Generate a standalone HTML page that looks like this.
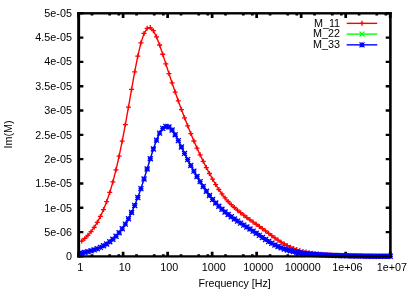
<!DOCTYPE html>
<html><head><meta charset="utf-8"><title>plot</title>
<style>html,body{margin:0;padding:0;background:#fff;}svg{display:block;will-change:transform;}text{font-family:"Liberation Sans",sans-serif;font-size:10px;fill:#000;}</style></head>
<body>
<svg width="415" height="291" viewBox="0 0 415 291">
<rect x="0" y="0" width="415" height="291" fill="#fff"/>
<g stroke="#000" fill="none">
<path stroke-width="2.4" d="M78.65 256.4h4.7 M390.4 256.4h-4.7 M78.65 232.09h4.7 M390.4 232.09h-4.7 M78.65 207.78h4.7 M390.4 207.78h-4.7 M78.65 183.47h4.7 M390.4 183.47h-4.7 M78.65 159.16h4.7 M390.4 159.16h-4.7 M78.65 134.85h4.7 M390.4 134.85h-4.7 M78.65 110.54h4.7 M390.4 110.54h-4.7 M78.65 86.23h4.7 M390.4 86.23h-4.7 M78.65 61.92h4.7 M390.4 61.92h-4.7 M78.65 37.61h4.7 M390.4 37.61h-4.7 M78.65 13.3h4.7 M390.4 13.3h-4.7"/>
<path stroke-width="2.7" d="M78.6 256.4v-4.7 M78.6 13.3v4.7 M92 256.4v-2.2 M92 13.3v2.2 M109.71 256.4v-2.2 M109.71 13.3v2.2 M118.8 256.4v-2.2 M118.8 13.3v2.2 M123.11 256.4v-4.7 M123.11 13.3v4.7 M136.51 256.4v-2.2 M136.51 13.3v2.2 M154.23 256.4v-2.2 M154.23 13.3v2.2 M163.31 256.4v-2.2 M163.31 13.3v2.2 M167.63 256.4v-4.7 M167.63 13.3v4.7 M181.03 256.4v-2.2 M181.03 13.3v2.2 M198.74 256.4v-2.2 M198.74 13.3v2.2 M207.83 256.4v-2.2 M207.83 13.3v2.2 M212.14 256.4v-4.7 M212.14 13.3v4.7 M225.54 256.4v-2.2 M225.54 13.3v2.2 M243.26 256.4v-2.2 M243.26 13.3v2.2 M252.34 256.4v-2.2 M252.34 13.3v2.2 M256.66 256.4v-4.7 M256.66 13.3v4.7 M270.06 256.4v-2.2 M270.06 13.3v2.2 M287.77 256.4v-2.2 M287.77 13.3v2.2 M296.86 256.4v-2.2 M296.86 13.3v2.2 M301.17 256.4v-4.7 M301.17 13.3v4.7 M314.57 256.4v-2.2 M314.57 13.3v2.2 M332.29 256.4v-2.2 M332.29 13.3v2.2 M341.37 256.4v-2.2 M341.37 13.3v2.2 M345.69 256.4v-4.7 M345.69 13.3v4.7 M359.09 256.4v-2.2 M359.09 13.3v2.2 M376.8 256.4v-2.2 M376.8 13.3v2.2 M385.89 256.4v-2.2 M385.89 13.3v2.2 M390.2 256.4v-4.7 M390.2 13.3v4.7"/>
</g>
<g>
<path d="M81.72 241.09 L84.83 238.42 L87.95 235.29 L91.06 231.63 L94.18 227.33 L97.3 222.3 L100.41 216.43 L103.53 209.59 L106.64 201.64 L109.76 192.45 L112.88 181.88 L115.99 169.82 L119.11 156.22 L122.22 141.09 L125.34 124.62 L128.46 107.15 L131.57 89.28 L134.69 71.89 L137.8 56.05 L140.92 42.9 L144.04 33.45 L147.15 28.31 L150.27 27.56 L153.38 30.7 L156.5 36.85 L159.62 45.01 L162.73 54.25 L165.85 63.89 L168.96 73.53 L172.08 82.95 L175.2 92.1 L178.31 100.96 L181.43 109.53 L184.54 117.82 L187.66 125.83 L190.78 133.55 L193.89 140.98 L197.01 148.08 L200.12 154.87 L203.24 161.36 L206.36 167.57 L209.47 173.52 L212.59 179.19 L215.7 184.53 L218.82 189.48 L221.94 193.96 L225.05 197.96 L228.17 201.5 L231.28 204.66 L234.4 207.52 L237.52 210.19 L240.63 212.72 L243.75 215.17 L246.86 217.53 L249.98 219.81 L253.1 222.04 L256.21 224.23 L259.33 226.43 L262.44 228.67 L265.56 230.97 L268.68 233.31 L271.79 235.65 L274.91 237.94 L278.02 240.12 L281.14 242.16 L284.26 244.01 L287.37 245.68 L290.49 247.16 L293.6 248.46 L296.72 249.59 L299.84 250.56 L302.95 251.39 L306.07 252.11 L309.18 252.72 L312.3 253.24 L315.42 253.68 L318.53 254.05 L321.65 254.36 L324.76 254.62 L327.88 254.83 L331 255.02 L334.11 255.17 L337.23 255.3 L340.34 255.41 L343.46 255.5 L346.58 255.59 L349.69 255.67 L352.81 255.75 L355.92 255.82 L359.04 255.89 L362.16 255.96 L365.27 256.01 L368.39 256.06 L371.5 256.11 L374.62 256.15 L377.74 256.19 L380.85 256.22 L383.97 256.24 L387.08 256.27 L390.2 256.29" stroke="#ff0000" stroke-width="1.4" fill="none" stroke-linejoin="round"/>
<path d="M79.22 241.09h5 M81.72 238.59v5 M82.33 238.42h5 M84.83 235.92v5 M85.45 235.29h5 M87.95 232.79v5 M88.56 231.63h5 M91.06 229.13v5 M91.68 227.33h5 M94.18 224.83v5 M94.8 222.3h5 M97.3 219.8v5 M97.91 216.43h5 M100.41 213.93v5 M101.03 209.59h5 M103.53 207.09v5 M104.14 201.64h5 M106.64 199.14v5 M107.26 192.45h5 M109.76 189.95v5 M110.38 181.88h5 M112.88 179.38v5 M113.49 169.82h5 M115.99 167.32v5 M116.61 156.22h5 M119.11 153.72v5 M119.72 141.09h5 M122.22 138.59v5 M122.84 124.62h5 M125.34 122.12v5 M125.96 107.15h5 M128.46 104.65v5 M129.07 89.28h5 M131.57 86.78v5 M132.19 71.89h5 M134.69 69.39v5 M135.3 56.05h5 M137.8 53.55v5 M138.42 42.9h5 M140.92 40.4v5 M141.54 33.45h5 M144.04 30.95v5 M144.65 28.31h5 M147.15 25.81v5 M147.77 27.56h5 M150.27 25.06v5 M150.88 30.7h5 M153.38 28.2v5 M154 36.85h5 M156.5 34.35v5 M157.12 45.01h5 M159.62 42.51v5 M160.23 54.25h5 M162.73 51.75v5 M163.35 63.89h5 M165.85 61.39v5 M166.46 73.53h5 M168.96 71.03v5 M169.58 82.95h5 M172.08 80.45v5 M172.7 92.1h5 M175.2 89.6v5 M175.81 100.96h5 M178.31 98.46v5 M178.93 109.53h5 M181.43 107.03v5 M182.04 117.82h5 M184.54 115.32v5 M185.16 125.83h5 M187.66 123.33v5 M188.28 133.55h5 M190.78 131.05v5 M191.39 140.98h5 M193.89 138.48v5 M194.51 148.08h5 M197.01 145.58v5 M197.62 154.87h5 M200.12 152.37v5 M200.74 161.36h5 M203.24 158.86v5 M203.86 167.57h5 M206.36 165.07v5 M206.97 173.52h5 M209.47 171.02v5 M210.09 179.19h5 M212.59 176.69v5 M213.2 184.53h5 M215.7 182.03v5 M216.32 189.48h5 M218.82 186.98v5 M219.44 193.96h5 M221.94 191.46v5 M222.55 197.96h5 M225.05 195.46v5 M225.67 201.5h5 M228.17 199v5 M228.78 204.66h5 M231.28 202.16v5 M231.9 207.52h5 M234.4 205.02v5 M235.02 210.19h5 M237.52 207.69v5 M238.13 212.72h5 M240.63 210.22v5 M241.25 215.17h5 M243.75 212.67v5 M244.36 217.53h5 M246.86 215.03v5 M247.48 219.81h5 M249.98 217.31v5 M250.6 222.04h5 M253.1 219.54v5 M253.71 224.23h5 M256.21 221.73v5 M256.83 226.43h5 M259.33 223.93v5 M259.94 228.67h5 M262.44 226.17v5 M263.06 230.97h5 M265.56 228.47v5 M266.18 233.31h5 M268.68 230.81v5 M269.29 235.65h5 M271.79 233.15v5 M272.41 237.94h5 M274.91 235.44v5 M275.52 240.12h5 M278.02 237.62v5 M278.64 242.16h5 M281.14 239.66v5 M281.76 244.01h5 M284.26 241.51v5 M284.87 245.68h5 M287.37 243.18v5 M287.99 247.16h5 M290.49 244.66v5 M291.1 248.46h5 M293.6 245.96v5 M294.22 249.59h5 M296.72 247.09v5 M297.34 250.56h5 M299.84 248.06v5 M300.45 251.39h5 M302.95 248.89v5 M303.57 252.11h5 M306.07 249.61v5 M306.68 252.72h5 M309.18 250.22v5 M309.8 253.24h5 M312.3 250.74v5 M312.92 253.68h5 M315.42 251.18v5 M316.03 254.05h5 M318.53 251.55v5 M319.15 254.36h5 M321.65 251.86v5 M322.26 254.62h5 M324.76 252.12v5 M325.38 254.83h5 M327.88 252.33v5 M328.5 255.02h5 M331 252.52v5 M331.61 255.17h5 M334.11 252.67v5 M334.73 255.3h5 M337.23 252.8v5 M337.84 255.41h5 M340.34 252.91v5 M340.96 255.5h5 M343.46 253v5 M344.08 255.59h5 M346.58 253.09v5 M347.19 255.67h5 M349.69 253.17v5 M350.31 255.75h5 M352.81 253.25v5 M353.42 255.82h5 M355.92 253.32v5 M356.54 255.89h5 M359.04 253.39v5 M359.66 255.96h5 M362.16 253.46v5 M362.77 256.01h5 M365.27 253.51v5 M365.89 256.06h5 M368.39 253.56v5 M369 256.11h5 M371.5 253.61v5 M372.12 256.15h5 M374.62 253.65v5 M375.24 256.19h5 M377.74 253.69v5 M378.35 256.22h5 M380.85 253.72v5 M381.47 256.24h5 M383.97 253.74v5 M384.58 256.27h5 M387.08 253.77v5 M387.7 256.29h5 M390.2 253.79v5" stroke="#ff0000" stroke-width="1.3" fill="none"/>
<path d="M81.72 252.96 L84.83 252.36 L87.95 251.66 L91.06 250.83 L94.18 249.85 L97.3 248.71 L100.41 247.37 L103.53 245.79 L106.64 243.95 L109.76 241.78 L112.88 239.25 L115.99 236.28 L119.11 232.82 L122.22 228.79 L125.34 224.12 L128.46 218.71 L131.57 212.5 L134.69 205.43 L137.8 197.47 L140.92 188.65 L144.04 179.08 L147.15 168.99 L150.27 158.76 L153.38 148.93 L156.5 140.15 L159.62 133.11 L162.73 128.4 L165.85 126.37 L168.96 127.02 L172.08 130.02 L175.2 134.78 L178.31 140.64 L181.43 147 L184.54 153.41 L187.66 159.63 L190.78 165.54 L193.89 171.15 L197.01 176.51 L200.12 181.65 L203.24 186.55 L206.36 191.18 L209.47 195.48 L212.59 199.42 L215.7 203.01 L218.82 206.28 L221.94 209.25 L225.05 211.97 L228.17 214.49 L231.28 216.83 L234.4 219.02 L237.52 221.1 L240.63 223.12 L243.75 225.1 L246.86 227.08 L249.98 229.08 L253.1 231.13 L256.21 233.22 L259.33 235.34 L262.44 237.45 L265.56 239.51 L268.68 241.47 L271.79 243.3 L274.91 244.96 L278.02 246.46 L281.14 247.79 L284.26 248.94 L287.37 249.95 L290.49 250.81 L293.6 251.55 L296.72 252.18 L299.84 252.71 L302.95 253.17 L306.07 253.57 L309.18 253.91 L312.3 254.21 L315.42 254.47 L318.53 254.7 L321.65 254.9 L324.76 255.07 L327.88 255.22 L331 255.36 L334.11 255.47 L337.23 255.57 L340.34 255.66 L343.46 255.74 L346.58 255.81 L349.69 255.88 L352.81 255.94 L355.92 256 L359.04 256.05 L362.16 256.1 L365.27 256.14 L368.39 256.17 L371.5 256.21 L374.62 256.23 L377.74 256.25 L380.85 256.27 L383.97 256.29 L387.08 256.3 L390.2 256.31" stroke="#00ff00" stroke-width="0.9" fill="none" stroke-linejoin="round"/>
<path d="M79.72 250.96l4 4 M79.72 254.96l4 -4 M82.83 250.36l4 4 M82.83 254.36l4 -4 M85.95 249.66l4 4 M85.95 253.66l4 -4 M89.06 248.83l4 4 M89.06 252.83l4 -4 M92.18 247.85l4 4 M92.18 251.85l4 -4 M95.3 246.71l4 4 M95.3 250.71l4 -4 M98.41 245.37l4 4 M98.41 249.37l4 -4 M101.53 243.79l4 4 M101.53 247.79l4 -4 M104.64 241.95l4 4 M104.64 245.95l4 -4 M107.76 239.78l4 4 M107.76 243.78l4 -4 M110.88 237.25l4 4 M110.88 241.25l4 -4 M113.99 234.28l4 4 M113.99 238.28l4 -4 M117.11 230.82l4 4 M117.11 234.82l4 -4 M120.22 226.79l4 4 M120.22 230.79l4 -4 M123.34 222.12l4 4 M123.34 226.12l4 -4 M126.46 216.71l4 4 M126.46 220.71l4 -4 M129.57 210.5l4 4 M129.57 214.5l4 -4 M132.69 203.43l4 4 M132.69 207.43l4 -4 M135.8 195.47l4 4 M135.8 199.47l4 -4 M138.92 186.65l4 4 M138.92 190.65l4 -4 M142.04 177.08l4 4 M142.04 181.08l4 -4 M145.15 166.99l4 4 M145.15 170.99l4 -4 M148.27 156.76l4 4 M148.27 160.76l4 -4 M151.38 146.93l4 4 M151.38 150.93l4 -4 M154.5 138.15l4 4 M154.5 142.15l4 -4 M157.62 131.11l4 4 M157.62 135.11l4 -4 M160.73 126.4l4 4 M160.73 130.4l4 -4 M163.85 124.37l4 4 M163.85 128.37l4 -4 M166.96 125.02l4 4 M166.96 129.02l4 -4 M170.08 128.02l4 4 M170.08 132.02l4 -4 M173.2 132.78l4 4 M173.2 136.78l4 -4 M176.31 138.64l4 4 M176.31 142.64l4 -4 M179.43 145l4 4 M179.43 149l4 -4 M182.54 151.41l4 4 M182.54 155.41l4 -4 M185.66 157.63l4 4 M185.66 161.63l4 -4 M188.78 163.54l4 4 M188.78 167.54l4 -4 M191.89 169.15l4 4 M191.89 173.15l4 -4 M195.01 174.51l4 4 M195.01 178.51l4 -4 M198.12 179.65l4 4 M198.12 183.65l4 -4 M201.24 184.55l4 4 M201.24 188.55l4 -4 M204.36 189.18l4 4 M204.36 193.18l4 -4 M207.47 193.48l4 4 M207.47 197.48l4 -4 M210.59 197.42l4 4 M210.59 201.42l4 -4 M213.7 201.01l4 4 M213.7 205.01l4 -4 M216.82 204.28l4 4 M216.82 208.28l4 -4 M219.94 207.25l4 4 M219.94 211.25l4 -4 M223.05 209.97l4 4 M223.05 213.97l4 -4 M226.17 212.49l4 4 M226.17 216.49l4 -4 M229.28 214.83l4 4 M229.28 218.83l4 -4 M232.4 217.02l4 4 M232.4 221.02l4 -4 M235.52 219.1l4 4 M235.52 223.1l4 -4 M238.63 221.12l4 4 M238.63 225.12l4 -4 M241.75 223.1l4 4 M241.75 227.1l4 -4 M244.86 225.08l4 4 M244.86 229.08l4 -4 M247.98 227.08l4 4 M247.98 231.08l4 -4 M251.1 229.13l4 4 M251.1 233.13l4 -4 M254.21 231.22l4 4 M254.21 235.22l4 -4 M257.33 233.34l4 4 M257.33 237.34l4 -4 M260.44 235.45l4 4 M260.44 239.45l4 -4 M263.56 237.51l4 4 M263.56 241.51l4 -4 M266.68 239.47l4 4 M266.68 243.47l4 -4 M269.79 241.3l4 4 M269.79 245.3l4 -4 M272.91 242.96l4 4 M272.91 246.96l4 -4 M276.02 244.46l4 4 M276.02 248.46l4 -4 M279.14 245.79l4 4 M279.14 249.79l4 -4 M282.26 246.94l4 4 M282.26 250.94l4 -4 M285.37 247.95l4 4 M285.37 251.95l4 -4 M288.49 248.81l4 4 M288.49 252.81l4 -4 M291.6 249.55l4 4 M291.6 253.55l4 -4 M294.72 250.18l4 4 M294.72 254.18l4 -4 M297.84 250.71l4 4 M297.84 254.71l4 -4 M300.95 251.17l4 4 M300.95 255.17l4 -4 M304.07 251.57l4 4 M304.07 255.57l4 -4 M307.18 251.91l4 4 M307.18 255.91l4 -4 M310.3 252.21l4 4 M310.3 256.21l4 -4 M313.42 252.47l4 4 M313.42 256.47l4 -4 M316.53 252.7l4 4 M316.53 256.7l4 -4 M319.65 252.9l4 4 M319.65 256.9l4 -4 M322.76 253.07l4 4 M322.76 257.07l4 -4 M325.88 253.22l4 4 M325.88 257.22l4 -4 M329 253.36l4 4 M329 257.36l4 -4 M332.11 253.47l4 4 M332.11 257.47l4 -4 M335.23 253.57l4 4 M335.23 257.57l4 -4 M338.34 253.66l4 4 M338.34 257.66l4 -4 M341.46 253.74l4 4 M341.46 257.74l4 -4 M344.58 253.81l4 4 M344.58 257.81l4 -4 M347.69 253.88l4 4 M347.69 257.88l4 -4 M350.81 253.94l4 4 M350.81 257.94l4 -4 M353.92 254l4 4 M353.92 258l4 -4 M357.04 254.05l4 4 M357.04 258.05l4 -4 M360.16 254.1l4 4 M360.16 258.1l4 -4 M363.27 254.14l4 4 M363.27 258.14l4 -4 M366.39 254.17l4 4 M366.39 258.17l4 -4 M369.5 254.21l4 4 M369.5 258.21l4 -4 M372.62 254.23l4 4 M372.62 258.23l4 -4 M375.74 254.25l4 4 M375.74 258.25l4 -4 M378.85 254.27l4 4 M378.85 258.27l4 -4 M381.97 254.29l4 4 M381.97 258.29l4 -4 M385.08 254.3l4 4 M385.08 258.3l4 -4 M388.2 254.31l4 4 M388.2 258.31l4 -4" stroke="#00ff00" stroke-width="0.9" fill="none"/>
<path d="M81.72 252.96 L84.83 252.36 L87.95 251.66 L91.06 250.83 L94.18 249.85 L97.3 248.71 L100.41 247.37 L103.53 245.79 L106.64 243.95 L109.76 241.78 L112.88 239.25 L115.99 236.28 L119.11 232.82 L122.22 228.79 L125.34 224.12 L128.46 218.71 L131.57 212.5 L134.69 205.43 L137.8 197.47 L140.92 188.65 L144.04 179.08 L147.15 168.99 L150.27 158.76 L153.38 148.93 L156.5 140.15 L159.62 133.11 L162.73 128.4 L165.85 126.37 L168.96 127.02 L172.08 130.02 L175.2 134.78 L178.31 140.64 L181.43 147 L184.54 153.41 L187.66 159.63 L190.78 165.54 L193.89 171.15 L197.01 176.51 L200.12 181.65 L203.24 186.55 L206.36 191.18 L209.47 195.48 L212.59 199.42 L215.7 203.01 L218.82 206.28 L221.94 209.25 L225.05 211.97 L228.17 214.49 L231.28 216.83 L234.4 219.02 L237.52 221.1 L240.63 223.12 L243.75 225.1 L246.86 227.08 L249.98 229.08 L253.1 231.13 L256.21 233.22 L259.33 235.34 L262.44 237.45 L265.56 239.51 L268.68 241.47 L271.79 243.3 L274.91 244.96 L278.02 246.46 L281.14 247.79 L284.26 248.94 L287.37 249.95 L290.49 250.81 L293.6 251.55 L296.72 252.18 L299.84 252.71 L302.95 253.17 L306.07 253.57 L309.18 253.91 L312.3 254.21 L315.42 254.47 L318.53 254.7 L321.65 254.9 L324.76 255.07 L327.88 255.22 L331 255.36 L334.11 255.47 L337.23 255.57 L340.34 255.66 L343.46 255.74 L346.58 255.81 L349.69 255.88 L352.81 255.94 L355.92 256 L359.04 256.05 L362.16 256.1 L365.27 256.14 L368.39 256.17 L371.5 256.21 L374.62 256.23 L377.74 256.25 L380.85 256.27 L383.97 256.29 L387.08 256.3 L390.2 256.31" stroke="#0000ff" stroke-width="1.4" fill="none" stroke-linejoin="round"/>
<path d="M79.22 252.96h5 M81.72 250.46v5 M79.22 250.46l5 5 M79.22 255.46l5 -5 M82.33 252.36h5 M84.83 249.86v5 M82.33 249.86l5 5 M82.33 254.86l5 -5 M85.45 251.66h5 M87.95 249.16v5 M85.45 249.16l5 5 M85.45 254.16l5 -5 M88.56 250.83h5 M91.06 248.33v5 M88.56 248.33l5 5 M88.56 253.33l5 -5 M91.68 249.85h5 M94.18 247.35v5 M91.68 247.35l5 5 M91.68 252.35l5 -5 M94.8 248.71h5 M97.3 246.21v5 M94.8 246.21l5 5 M94.8 251.21l5 -5 M97.91 247.37h5 M100.41 244.87v5 M97.91 244.87l5 5 M97.91 249.87l5 -5 M101.03 245.79h5 M103.53 243.29v5 M101.03 243.29l5 5 M101.03 248.29l5 -5 M104.14 243.95h5 M106.64 241.45v5 M104.14 241.45l5 5 M104.14 246.45l5 -5 M107.26 241.78h5 M109.76 239.28v5 M107.26 239.28l5 5 M107.26 244.28l5 -5 M110.38 239.25h5 M112.88 236.75v5 M110.38 236.75l5 5 M110.38 241.75l5 -5 M113.49 236.28h5 M115.99 233.78v5 M113.49 233.78l5 5 M113.49 238.78l5 -5 M116.61 232.82h5 M119.11 230.32v5 M116.61 230.32l5 5 M116.61 235.32l5 -5 M119.72 228.79h5 M122.22 226.29v5 M119.72 226.29l5 5 M119.72 231.29l5 -5 M122.84 224.12h5 M125.34 221.62v5 M122.84 221.62l5 5 M122.84 226.62l5 -5 M125.96 218.71h5 M128.46 216.21v5 M125.96 216.21l5 5 M125.96 221.21l5 -5 M129.07 212.5h5 M131.57 210v5 M129.07 210l5 5 M129.07 215l5 -5 M132.19 205.43h5 M134.69 202.93v5 M132.19 202.93l5 5 M132.19 207.93l5 -5 M135.3 197.47h5 M137.8 194.97v5 M135.3 194.97l5 5 M135.3 199.97l5 -5 M138.42 188.65h5 M140.92 186.15v5 M138.42 186.15l5 5 M138.42 191.15l5 -5 M141.54 179.08h5 M144.04 176.58v5 M141.54 176.58l5 5 M141.54 181.58l5 -5 M144.65 168.99h5 M147.15 166.49v5 M144.65 166.49l5 5 M144.65 171.49l5 -5 M147.77 158.76h5 M150.27 156.26v5 M147.77 156.26l5 5 M147.77 161.26l5 -5 M150.88 148.93h5 M153.38 146.43v5 M150.88 146.43l5 5 M150.88 151.43l5 -5 M154 140.15h5 M156.5 137.65v5 M154 137.65l5 5 M154 142.65l5 -5 M157.12 133.11h5 M159.62 130.61v5 M157.12 130.61l5 5 M157.12 135.61l5 -5 M160.23 128.4h5 M162.73 125.9v5 M160.23 125.9l5 5 M160.23 130.9l5 -5 M163.35 126.37h5 M165.85 123.87v5 M163.35 123.87l5 5 M163.35 128.87l5 -5 M166.46 127.02h5 M168.96 124.52v5 M166.46 124.52l5 5 M166.46 129.52l5 -5 M169.58 130.02h5 M172.08 127.52v5 M169.58 127.52l5 5 M169.58 132.52l5 -5 M172.7 134.78h5 M175.2 132.28v5 M172.7 132.28l5 5 M172.7 137.28l5 -5 M175.81 140.64h5 M178.31 138.14v5 M175.81 138.14l5 5 M175.81 143.14l5 -5 M178.93 147h5 M181.43 144.5v5 M178.93 144.5l5 5 M178.93 149.5l5 -5 M182.04 153.41h5 M184.54 150.91v5 M182.04 150.91l5 5 M182.04 155.91l5 -5 M185.16 159.63h5 M187.66 157.13v5 M185.16 157.13l5 5 M185.16 162.13l5 -5 M188.28 165.54h5 M190.78 163.04v5 M188.28 163.04l5 5 M188.28 168.04l5 -5 M191.39 171.15h5 M193.89 168.65v5 M191.39 168.65l5 5 M191.39 173.65l5 -5 M194.51 176.51h5 M197.01 174.01v5 M194.51 174.01l5 5 M194.51 179.01l5 -5 M197.62 181.65h5 M200.12 179.15v5 M197.62 179.15l5 5 M197.62 184.15l5 -5 M200.74 186.55h5 M203.24 184.05v5 M200.74 184.05l5 5 M200.74 189.05l5 -5 M203.86 191.18h5 M206.36 188.68v5 M203.86 188.68l5 5 M203.86 193.68l5 -5 M206.97 195.48h5 M209.47 192.98v5 M206.97 192.98l5 5 M206.97 197.98l5 -5 M210.09 199.42h5 M212.59 196.92v5 M210.09 196.92l5 5 M210.09 201.92l5 -5 M213.2 203.01h5 M215.7 200.51v5 M213.2 200.51l5 5 M213.2 205.51l5 -5 M216.32 206.28h5 M218.82 203.78v5 M216.32 203.78l5 5 M216.32 208.78l5 -5 M219.44 209.25h5 M221.94 206.75v5 M219.44 206.75l5 5 M219.44 211.75l5 -5 M222.55 211.97h5 M225.05 209.47v5 M222.55 209.47l5 5 M222.55 214.47l5 -5 M225.67 214.49h5 M228.17 211.99v5 M225.67 211.99l5 5 M225.67 216.99l5 -5 M228.78 216.83h5 M231.28 214.33v5 M228.78 214.33l5 5 M228.78 219.33l5 -5 M231.9 219.02h5 M234.4 216.52v5 M231.9 216.52l5 5 M231.9 221.52l5 -5 M235.02 221.1h5 M237.52 218.6v5 M235.02 218.6l5 5 M235.02 223.6l5 -5 M238.13 223.12h5 M240.63 220.62v5 M238.13 220.62l5 5 M238.13 225.62l5 -5 M241.25 225.1h5 M243.75 222.6v5 M241.25 222.6l5 5 M241.25 227.6l5 -5 M244.36 227.08h5 M246.86 224.58v5 M244.36 224.58l5 5 M244.36 229.58l5 -5 M247.48 229.08h5 M249.98 226.58v5 M247.48 226.58l5 5 M247.48 231.58l5 -5 M250.6 231.13h5 M253.1 228.63v5 M250.6 228.63l5 5 M250.6 233.63l5 -5 M253.71 233.22h5 M256.21 230.72v5 M253.71 230.72l5 5 M253.71 235.72l5 -5 M256.83 235.34h5 M259.33 232.84v5 M256.83 232.84l5 5 M256.83 237.84l5 -5 M259.94 237.45h5 M262.44 234.95v5 M259.94 234.95l5 5 M259.94 239.95l5 -5 M263.06 239.51h5 M265.56 237.01v5 M263.06 237.01l5 5 M263.06 242.01l5 -5 M266.18 241.47h5 M268.68 238.97v5 M266.18 238.97l5 5 M266.18 243.97l5 -5 M269.29 243.3h5 M271.79 240.8v5 M269.29 240.8l5 5 M269.29 245.8l5 -5 M272.41 244.96h5 M274.91 242.46v5 M272.41 242.46l5 5 M272.41 247.46l5 -5 M275.52 246.46h5 M278.02 243.96v5 M275.52 243.96l5 5 M275.52 248.96l5 -5 M278.64 247.79h5 M281.14 245.29v5 M278.64 245.29l5 5 M278.64 250.29l5 -5 M281.76 248.94h5 M284.26 246.44v5 M281.76 246.44l5 5 M281.76 251.44l5 -5 M284.87 249.95h5 M287.37 247.45v5 M284.87 247.45l5 5 M284.87 252.45l5 -5 M287.99 250.81h5 M290.49 248.31v5 M287.99 248.31l5 5 M287.99 253.31l5 -5 M291.1 251.55h5 M293.6 249.05v5 M291.1 249.05l5 5 M291.1 254.05l5 -5 M294.22 252.18h5 M296.72 249.68v5 M294.22 249.68l5 5 M294.22 254.68l5 -5 M297.34 252.71h5 M299.84 250.21v5 M297.34 250.21l5 5 M297.34 255.21l5 -5 M300.45 253.17h5 M302.95 250.67v5 M300.45 250.67l5 5 M300.45 255.67l5 -5 M303.57 253.57h5 M306.07 251.07v5 M303.57 251.07l5 5 M303.57 256.07l5 -5 M306.68 253.91h5 M309.18 251.41v5 M306.68 251.41l5 5 M306.68 256.41l5 -5 M309.8 254.21h5 M312.3 251.71v5 M309.8 251.71l5 5 M309.8 256.71l5 -5 M312.92 254.47h5 M315.42 251.97v5 M312.92 251.97l5 5 M312.92 256.97l5 -5 M316.03 254.7h5 M318.53 252.2v5 M316.03 252.2l5 5 M316.03 257.2l5 -5 M319.15 254.9h5 M321.65 252.4v5 M319.15 252.4l5 5 M319.15 257.4l5 -5 M322.26 255.07h5 M324.76 252.57v5 M322.26 252.57l5 5 M322.26 257.57l5 -5 M325.38 255.22h5 M327.88 252.72v5 M325.38 252.72l5 5 M325.38 257.72l5 -5 M328.5 255.36h5 M331 252.86v5 M328.5 252.86l5 5 M328.5 257.86l5 -5 M331.61 255.47h5 M334.11 252.97v5 M331.61 252.97l5 5 M331.61 257.97l5 -5 M334.73 255.57h5 M337.23 253.07v5 M334.73 253.07l5 5 M334.73 258.07l5 -5 M337.84 255.66h5 M340.34 253.16v5 M337.84 253.16l5 5 M337.84 258.16l5 -5 M340.96 255.74h5 M343.46 253.24v5 M340.96 253.24l5 5 M340.96 258.24l5 -5 M344.08 255.81h5 M346.58 253.31v5 M344.08 253.31l5 5 M344.08 258.31l5 -5 M347.19 255.88h5 M349.69 253.38v5 M347.19 253.38l5 5 M347.19 258.38l5 -5 M350.31 255.94h5 M352.81 253.44v5 M350.31 253.44l5 5 M350.31 258.44l5 -5 M353.42 256h5 M355.92 253.5v5 M353.42 253.5l5 5 M353.42 258.5l5 -5 M356.54 256.05h5 M359.04 253.55v5 M356.54 253.55l5 5 M356.54 258.55l5 -5 M359.66 256.1h5 M362.16 253.6v5 M359.66 253.6l5 5 M359.66 258.6l5 -5 M362.77 256.14h5 M365.27 253.64v5 M362.77 253.64l5 5 M362.77 258.64l5 -5 M365.89 256.17h5 M368.39 253.67v5 M365.89 253.67l5 5 M365.89 258.67l5 -5 M369 256.21h5 M371.5 253.71v5 M369 253.71l5 5 M369 258.71l5 -5 M372.12 256.23h5 M374.62 253.73v5 M372.12 253.73l5 5 M372.12 258.73l5 -5 M375.24 256.25h5 M377.74 253.75v5 M375.24 253.75l5 5 M375.24 258.75l5 -5 M378.35 256.27h5 M380.85 253.77v5 M378.35 253.77l5 5 M378.35 258.77l5 -5 M381.47 256.29h5 M383.97 253.79v5 M381.47 253.79l5 5 M381.47 258.79l5 -5 M384.58 256.3h5 M387.08 253.8v5 M384.58 253.8l5 5 M384.58 258.8l5 -5 M387.7 256.31h5 M390.2 253.81v5 M387.7 253.81l5 5 M387.7 258.81l5 -5" stroke="#0000ff" stroke-width="1.3" fill="none"/>
</g>
<g fill="#000">
<rect x="77.18" y="12.1" width="2.95" height="245.45"/>
<rect x="389.1" y="12.1" width="2.6" height="245.45"/>
<rect x="77.18" y="12.1" width="314.52" height="2.4"/>
<rect x="77.18" y="255.25" width="314.52" height="2.3"/>
</g>
<text transform="translate(71.9,259.68) scale(1.08,1)" text-anchor="end">0</text>
<text transform="translate(71.9,236.28) scale(1.08,1)" text-anchor="end">5e-06</text>
<text transform="translate(71.9,211.78) scale(1.08,1)" text-anchor="end">1e-05</text>
<text transform="translate(71.9,187.48) scale(1.08,1)" text-anchor="end">1.5e-05</text>
<text transform="translate(71.9,163.08) scale(1.08,1)" text-anchor="end">2e-05</text>
<text transform="translate(71.9,138.58) scale(1.08,1)" text-anchor="end">2.5e-05</text>
<text transform="translate(71.9,114.08) scale(1.08,1)" text-anchor="end">3e-05</text>
<text transform="translate(71.9,89.78) scale(1.08,1)" text-anchor="end">3.5e-05</text>
<text transform="translate(71.9,65.48) scale(1.08,1)" text-anchor="end">4e-05</text>
<text transform="translate(71.9,41.18) scale(1.08,1)" text-anchor="end">4.5e-05</text>
<text transform="translate(71.9,16.98) scale(1.08,1)" text-anchor="end">5e-05</text>
<text transform="translate(80.2,271.3) scale(1.08,1)" text-anchor="middle">1</text>
<text transform="translate(124.71,271.3) scale(1.08,1)" text-anchor="middle">10</text>
<text transform="translate(169.23,271.3) scale(1.08,1)" text-anchor="middle">100</text>
<text transform="translate(213.74,271.3) scale(1.08,1)" text-anchor="middle">1000</text>
<text transform="translate(258.26,271.3) scale(1.08,1)" text-anchor="middle">10000</text>
<text transform="translate(302.77,271.3) scale(1.08,1)" text-anchor="middle">100000</text>
<text transform="translate(347.29,271.3) scale(1.08,1)" text-anchor="middle">1e+06</text>
<text transform="translate(391.8,271.3) scale(1.08,1)" text-anchor="middle">1e+07</text>
<text transform="translate(234.6,287) scale(1.065,1)" text-anchor="middle">Frequency [Hz]</text>
<text transform="translate(11.5,134.5) rotate(-90) scale(1.08,1)" text-anchor="middle">Im(M)</text>
<text transform="translate(340.1,26.65) scale(1.08,1)" text-anchor="end">M_11</text>
<path d="M346.7 23.35H377.2" stroke="#ff0000" stroke-width="1.4" fill="none"/>
<path d="M359.5 23.35h5 M362 20.85v5" stroke="#ff0000" stroke-width="1.3" fill="none"/>
<text transform="translate(340.1,37.4) scale(1.08,1)" text-anchor="end">M_22</text>
<path d="M346.7 34.1H377.2" stroke="#00ff00" stroke-width="1.4" fill="none"/>
<path d="M359.5 31.6l5 5 M359.5 36.6l5 -5" stroke="#00ff00" stroke-width="1.3" fill="none"/>
<text transform="translate(340.1,48.15) scale(1.08,1)" text-anchor="end">M_33</text>
<path d="M346.7 44.85H377.2" stroke="#0000ff" stroke-width="1.4" fill="none"/>
<path d="M359.5 44.85h5 M362 42.35v5 M359.5 42.35l5 5 M359.5 47.35l5 -5" stroke="#0000ff" stroke-width="1.3" fill="none"/>
</svg></body></html>
